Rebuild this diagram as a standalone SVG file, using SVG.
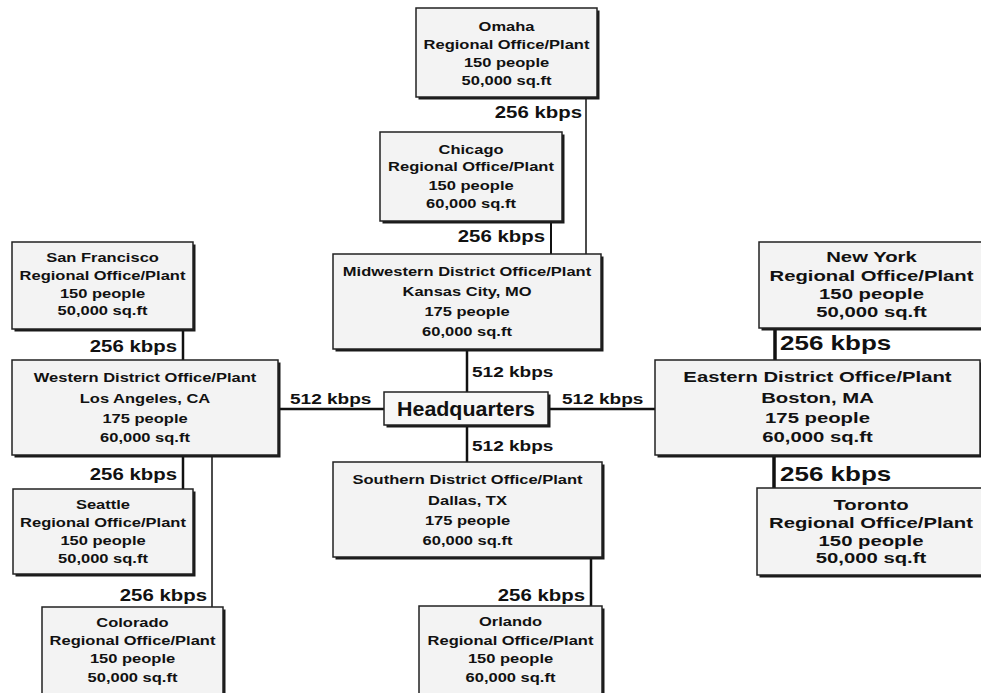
<svg xmlns="http://www.w3.org/2000/svg" width="981" height="693" viewBox="0 0 981 693">
<style>
.bg{fill:#fff}
.sh{fill:#1a1a1a}
.box{fill:#f3f3f3;stroke:#222;stroke-width:1.5}
.t{font-family:"Liberation Sans",Arial,sans-serif;font-weight:bold;font-size:13px;fill:#111;text-anchor:middle}
.tr{font-family:"Liberation Sans",Arial,sans-serif;font-weight:bold;font-size:14px;fill:#111;text-anchor:middle}
.hq{font-family:"Liberation Sans",Arial,sans-serif;font-weight:bold;font-size:20px;fill:#111;text-anchor:middle}
.l256{font-family:"Liberation Sans",Arial,sans-serif;font-weight:bold;font-size:17px;fill:#111;text-anchor:end}
.l256r{font-family:"Liberation Sans",Arial,sans-serif;font-weight:bold;font-size:20px;fill:#111;text-anchor:start}
.l512{font-family:"Liberation Sans",Arial,sans-serif;font-weight:bold;font-size:15px;fill:#111;text-anchor:start}
.c{stroke:#111;fill:none}
</style>
<rect class="bg" x="0" y="0" width="981" height="693"/>
<g id="connectors">
<line class="c" x1="586" y1="97" x2="586" y2="254" stroke-width="1.5"/>
<line class="c" x1="551" y1="221" x2="551" y2="254" stroke-width="2"/>
<line class="c" x1="467" y1="349" x2="467" y2="392" stroke-width="2.5"/>
<line class="c" x1="467" y1="425" x2="467" y2="462" stroke-width="2.5"/>
<line class="c" x1="278" y1="409" x2="384" y2="409" stroke-width="2.5"/>
<line class="c" x1="548" y1="409" x2="655" y2="409" stroke-width="2.5"/>
<line class="c" x1="183" y1="329" x2="183" y2="360" stroke-width="2.5"/>
<line class="c" x1="183" y1="455" x2="183" y2="489" stroke-width="2.5"/>
<line class="c" x1="212" y1="455" x2="212" y2="607" stroke-width="1.5"/>
<line class="c" x1="591" y1="557" x2="591" y2="606" stroke-width="2.5"/>
<line class="c" x1="775" y1="328" x2="775" y2="360" stroke-width="3.5"/>
<line class="c" x1="774" y1="455" x2="774" y2="488" stroke-width="3.5"/>
<text class="l256" transform="translate(582,118) scale(1.2,1)">256 kbps</text>
<text class="l256" transform="translate(545,242) scale(1.2,1)">256 kbps</text>
<text class="l256" transform="translate(177,352) scale(1.2,1)">256 kbps</text>
<text class="l256" transform="translate(177,480) scale(1.2,1)">256 kbps</text>
<text class="l256" transform="translate(207,601) scale(1.2,1)">256 kbps</text>
<text class="l256" transform="translate(585,601) scale(1.2,1)">256 kbps</text>
<text class="l256r" transform="translate(780,350) scale(1.3,1)">256 kbps</text>
<text class="l256r" transform="translate(780,481) scale(1.3,1)">256 kbps</text>
<text class="l512" transform="translate(472,377) scale(1.27,1)">512 kbps</text>
<text class="l512" transform="translate(472,451) scale(1.27,1)">512 kbps</text>
<text class="l512" transform="translate(290,404) scale(1.27,1)">512 kbps</text>
<text class="l512" transform="translate(562,404) scale(1.27,1)">512 kbps</text>
</g>
<g id="omaha">
<rect class="sh" x="418.5" y="10.5" width="181" height="89"/>
<rect class="box" x="416" y="8" width="181" height="89"/>
<g transform="translate(506.5,0) scale(1.27,1)">
<text class="t" x="0" y="31">Omaha</text>
<text class="t" x="0" y="49">Regional Office/Plant</text>
<text class="t" x="0" y="67">150 people</text>
<text class="t" x="0" y="85">50,000 sq.ft</text>
</g>
</g>
<g id="chicago">
<rect class="sh" x="382.5" y="134.5" width="182" height="89"/>
<rect class="box" x="380" y="132" width="182" height="89"/>
<g transform="translate(471,0) scale(1.27,1)">
<text class="t" x="0" y="154">Chicago</text>
<text class="t" x="0" y="171">Regional Office/Plant</text>
<text class="t" x="0" y="190">150 people</text>
<text class="t" x="0" y="208">60,000 sq.ft</text>
</g>
</g>
<g id="midwestern">
<rect class="sh" x="335.5" y="256.5" width="268" height="95"/>
<rect class="box" x="333" y="254" width="268" height="95"/>
<g transform="translate(467,0) scale(1.27,1)">
<text class="t" x="0" y="276">Midwestern District Office/Plant</text>
<text class="t" x="0" y="296">Kansas City, MO</text>
<text class="t" x="0" y="316">175 people</text>
<text class="t" x="0" y="336">60,000 sq.ft</text>
</g>
</g>
<g id="headquarters">
<rect class="sh" x="386.5" y="394.5" width="164" height="33"/>
<rect class="box" x="384" y="392" width="164" height="33" style="fill:#f7f7f7"/>
<text class="hq" transform="translate(466,416) scale(1.07,1)">Headquarters</text>
</g>
<g id="sanfrancisco">
<rect class="sh" x="14.5" y="244.5" width="181" height="87"/>
<rect class="box" x="12" y="242" width="181" height="87"/>
<g transform="translate(102.5,0) scale(1.27,1)">
<text class="t" x="0" y="262">San Francisco</text>
<text class="t" x="0" y="280">Regional Office/Plant</text>
<text class="t" x="0" y="298">150 people</text>
<text class="t" x="0" y="315">50,000 sq.ft</text>
</g>
</g>
<g id="western">
<rect class="sh" x="14.5" y="362.5" width="266" height="95"/>
<rect class="box" x="12" y="360" width="266" height="95"/>
<g transform="translate(145,0) scale(1.27,1)">
<text class="t" x="0" y="382">Western District Office/Plant</text>
<text class="t" x="0" y="403">Los Angeles, CA</text>
<text class="t" x="0" y="423">175 people</text>
<text class="t" x="0" y="442">60,000 sq.ft</text>
</g>
</g>
<g id="seattle">
<rect class="sh" x="15.5" y="491.5" width="180" height="85"/>
<rect class="box" x="13" y="489" width="180" height="85"/>
<g transform="translate(103,0) scale(1.27,1)">
<text class="t" x="0" y="509">Seattle</text>
<text class="t" x="0" y="527">Regional Office/Plant</text>
<text class="t" x="0" y="545">150 people</text>
<text class="t" x="0" y="563">50,000 sq.ft</text>
</g>
</g>
<g id="colorado">
<rect class="sh" x="44.5" y="609.5" width="181" height="90"/>
<rect class="box" x="42" y="607" width="181" height="90"/>
<g transform="translate(132.5,0) scale(1.27,1)">
<text class="t" x="0" y="627">Colorado</text>
<text class="t" x="0" y="645">Regional Office/Plant</text>
<text class="t" x="0" y="663">150 people</text>
<text class="t" x="0" y="682">50,000 sq.ft</text>
</g>
</g>
<g id="southern">
<rect class="sh" x="335.5" y="464.5" width="269" height="95"/>
<rect class="box" x="333" y="462" width="269" height="95"/>
<g transform="translate(467.5,0) scale(1.27,1)">
<text class="t" x="0" y="484">Southern District Office/Plant</text>
<text class="t" x="0" y="505">Dallas, TX</text>
<text class="t" x="0" y="525">175 people</text>
<text class="t" x="0" y="545">60,000 sq.ft</text>
</g>
</g>
<g id="orlando">
<rect class="sh" x="421.5" y="608.5" width="183" height="90"/>
<rect class="box" x="419" y="606" width="183" height="90"/>
<g transform="translate(510.5,0) scale(1.27,1)">
<text class="t" x="0" y="626">Orlando</text>
<text class="t" x="0" y="645">Regional Office/Plant</text>
<text class="t" x="0" y="663">150 people</text>
<text class="t" x="0" y="682">60,000 sq.ft</text>
</g>
</g>
<g id="newyork">
<rect class="sh" x="761.5" y="244.5" width="226" height="86"/>
<rect class="box" x="759" y="242" width="226" height="86"/>
<g transform="translate(871.5,0) scale(1.45,1)">
<text class="tr" x="0" y="262">New York</text>
<text class="tr" x="0" y="281">Regional Office/Plant</text>
<text class="tr" x="0" y="299">150 people</text>
<text class="tr" x="0" y="317">50,000 sq.ft</text>
</g>
</g>
<g id="eastern">
<rect class="sh" x="657.5" y="362.5" width="325" height="95"/>
<rect class="box" x="655" y="360" width="325" height="95"/>
<g transform="translate(817.5,0) scale(1.45,1)">
<text class="tr" x="0" y="382">Eastern District Office/Plant</text>
<text class="tr" x="0" y="403">Boston, MA</text>
<text class="tr" x="0" y="423">175 people</text>
<text class="tr" x="0" y="442">60,000 sq.ft</text>
</g>
</g>
<g id="toronto">
<rect class="sh" x="759.5" y="490.5" width="228" height="87"/>
<rect class="box" x="757" y="488" width="228" height="87"/>
<g transform="translate(871,0) scale(1.45,1)">
<text class="tr" x="0" y="510">Toronto</text>
<text class="tr" x="0" y="528">Regional Office/Plant</text>
<text class="tr" x="0" y="546">150 people</text>
<text class="tr" x="0" y="563">50,000 sq.ft</text>
</g>
</g>
</svg>
